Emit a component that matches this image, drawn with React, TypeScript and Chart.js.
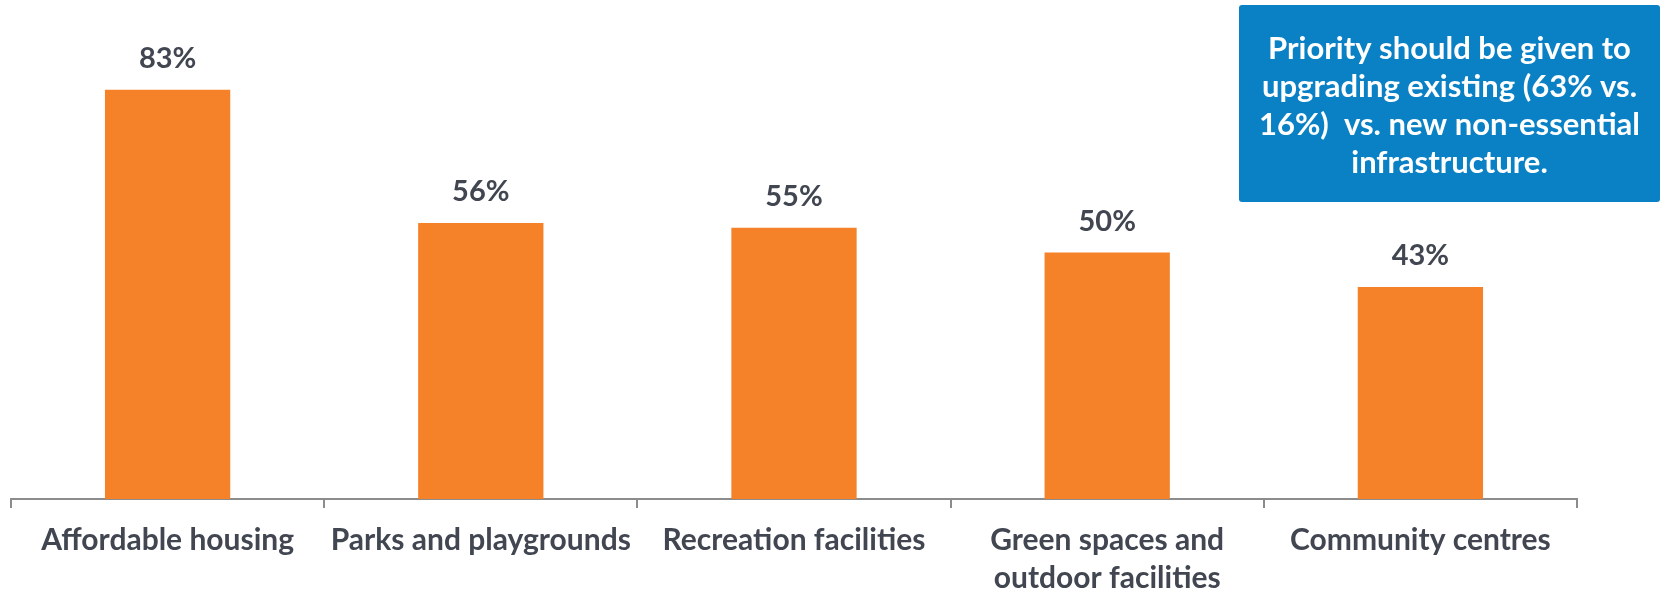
import React, { useEffect, useRef } from "react";
import { Chart, registerables } from "chart.js";

Chart.register(...registerables);

const categories: (string | string[])[] = [
  "Affordable housing",
  "Parks and playgrounds",
  "Recreation facilities",
  ["Green spaces and", "outdoor facilities"],
  "Community centres",
];
const values: number[] = [83, 56, 55, 50, 43];
const calloutLines: string[] = [
  "Priority should be given to",
  "upgrading existing (63% vs.",
  "16%)  vs. new non-essential",
  "infrastructure.",
];

const FONT = "Lato, 'Open Sans', sans-serif";
const TEXT = "#414651";

const labelPlugin = {
  id: "valueLabels",
  afterDatasetsDraw(chart: any) {
    const { ctx } = chart;
    const meta = chart.getDatasetMeta(0);
    ctx.save();
    ctx.font = `bold 29px ${FONT}`;
    ctx.fillStyle = TEXT;
    ctx.textAlign = "center";
    ctx.textBaseline = "middle";
    meta.data.forEach((bar: any, i: number) => {
      ctx.fillText(values[i] + "%", bar.x, bar.y - 31);
    });
    ctx.restore();
  },
};

const calloutPlugin = {
  id: "callout",
  afterDraw(chart: any) {
    const { ctx } = chart;
    const x = 1239, y = 5, w = 421, h = 197;
    ctx.save();
    ctx.fillStyle = "#0a80c5";
    ctx.beginPath();
    if (ctx.roundRect) ctx.roundRect(x, y, w, h, 3);
    else ctx.rect(x, y, w, h);
    ctx.fill();
    ctx.font = `bold 31px ${FONT}`;
    ctx.fillStyle = "#ffffff";
    ctx.textAlign = "center";
    ctx.textBaseline = "middle";
    calloutLines.forEach((line, i) => {
      ctx.fillText(line, x + w / 2, 49 + i * 38);
    });
    ctx.restore();
  },
};

export default function App() {
  const ref = useRef<HTMLCanvasElement>(null);
  useEffect(() => {
    if (!ref.current) return;
    const chart = new Chart(ref.current, {
      type: "bar",
      data: {
        labels: categories,
        datasets: [
          {
            data: values,
            backgroundColor: "#f58229",
            barPercentage: 0.4,
            categoryPercentage: 1,
          },
        ],
      },
      options: {
        animation: false,
        responsive: false,
        maintainAspectRatio: false,
        layout: { padding: { left: 11, right: 85, top: 6, bottom: 0 } },
        plugins: { legend: { display: false }, tooltip: { enabled: false } },
        scales: {
          y: { display: false, min: 0, max: 100 },
          x: {
            afterFit: (scale: any) => {
              scale.height = 94;
            },
            border: { display: true, color: "#8c8c8c", width: 2 },
            grid: {
              display: true,
              drawOnChartArea: false,
              drawTicks: true,
              tickLength: 9,
              color: "#8c8c8c",
              lineWidth: 2,
              offset: true,
            },
            ticks: {
              color: TEXT,
              padding: 13,
              maxRotation: 0,
              autoSkip: false,
              font: { family: FONT, size: 30, weight: "bold", lineHeight: 1.267 },
            },
          },
        },
      },
      plugins: [labelPlugin, calloutPlugin],
    });
    return () => chart.destroy();
  }, []);
  return (
    <div style={{ position: "absolute", left: 0, top: 0, width: 1662, height: 593, background: "#fff" }}>
      <canvas ref={ref} width={1662} height={593} style={{ display: "block" }} />
    </div>
  );
}
